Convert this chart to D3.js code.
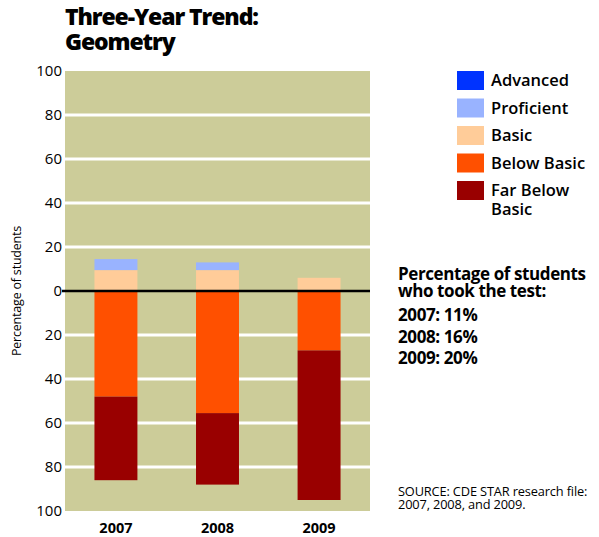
<!DOCTYPE html>
<html>
<head>
<meta charset="utf-8">
<script src="https://cdn.jsdelivr.net/npm/d3@7/dist/d3.min.js"></script>
<style>
  html, body { margin: 0; padding: 0; background: #ffffff; }
  svg { display: block; }
  text { font-family: "Open Sans", "DejaVu Sans", sans-serif; fill: #000; }
</style>
</head>
<body>
<svg id="chart" width="599" height="537"></svg>
<script>
// Performance bands per test year (percent of students)
const years = ["2007", "2008", "2009"];
const advanced = [0, 0, 0];
const proficient = [5, 3.5, 0];
const basic = [9.5, 9.5, 6];
const belowBasic = [48, 55.5, 27];
const farBelowBasic = [38, 32.5, 68];

const bandNames = ["Advanced", "Proficient", "Basic", "Below Basic", "Far Below Basic"];
const bandColors = ["#0033ff", "#99b3ff", "#ffcc99", "#ff5000", "#990000"];

const yTicks = [100, 80, 60, 40, 20, 0, -20, -40, -60, -80, -100];
const tookTest = ["2007: 11%", "2008: 16%", "2009: 20%"];

const svg = d3.select("#chart");

const plot = { left: 65, right: 370, top: 71, bottom: 511 };

const x = d3.scaleBand()
  .domain(years)
  .range([plot.left, plot.right])
  .paddingInner(0.577)
  .paddingOuter(0.29);

const y = d3.scaleLinear()
  .domain([-100, 100])
  .range([plot.bottom, plot.top]);

// Plot background
svg.append("rect")
  .attr("x", plot.left).attr("y", plot.top)
  .attr("width", plot.right - plot.left)
  .attr("height", plot.bottom - plot.top)
  .attr("fill", "#cccc99");

// White gridlines (excluding edges and zero)
svg.append("g")
  .selectAll("line")
  .data(yTicks.filter(d => d !== 0 && Math.abs(d) !== 100))
  .join("line")
  .attr("x1", plot.left).attr("x2", plot.right)
  .attr("y1", d => y(d)).attr("y2", d => y(d))
  .attr("stroke", "#ffffff")
  .attr("stroke-width", 3);

// Build stacked segments: positive bands go up from zero, negative go down
const segments = [];
years.forEach((yr, i) => {
  let top = 0;
  [[basic, 2], [proficient, 1], [advanced, 0]].forEach(([arr, k]) => {
    const v = arr[i];
    segments.push({ year: yr, y0: top, y1: top + v, color: bandColors[k] });
    top += v;
  });
  let bot = 0;
  [[belowBasic, 3], [farBelowBasic, 4]].forEach(([arr, k]) => {
    const v = arr[i];
    segments.push({ year: yr, y0: bot - v, y1: bot, color: bandColors[k] });
    bot -= v;
  });
});

svg.append("g")
  .selectAll("rect")
  .data(segments.filter(s => s.y1 - s.y0 > 0))
  .join("rect")
  .attr("x", d => x(d.year))
  .attr("width", x.bandwidth())
  .attr("y", d => y(d.y1))
  .attr("height", d => y(d.y0) - y(d.y1))
  .attr("fill", d => d.color);

// Zero baseline
svg.append("line")
  .attr("x1", plot.left - 3).attr("x2", plot.right)
  .attr("y1", y(0)).attr("y2", y(0))
  .attr("stroke", "#000")
  .attr("stroke-width", 2.5);

// Y axis labels (absolute values)
const yAxis = d3.axisLeft(y)
  .tickValues(yTicks)
  .tickFormat(d => Math.abs(d))
  .tickSize(0)
  .tickPadding(3);

const yg = svg.append("g")
  .attr("transform", `translate(${plot.left},0)`)
  .call(yAxis);
yg.select(".domain").remove();
yg.selectAll("text")
  .style("font-family", "'Open Sans', sans-serif")
  .style("font-size", "15px")
  .attr("fill", "#000");

// X axis labels
const xAxis = d3.axisBottom(x).tickSize(0).tickPadding(0);
const xg = svg.append("g")
  .attr("transform", `translate(0,${plot.bottom})`)
  .call(xAxis);
xg.select(".domain").remove();
xg.selectAll("text")
  .attr("dy", null)
  .attr("y", 22)
  .style("font-family", "'Open Sans', sans-serif")
  .style("font-size", "14.5px")
  .style("font-weight", "700")
  .attr("fill", "#000");

// Y axis title
svg.append("text")
  .attr("transform", `translate(21,${y(0)}) rotate(-90)`)
  .attr("text-anchor", "middle")
  .style("font-size", "12.5px")
  .style("letter-spacing", "-0.2px")
  .text("Percentage of students");

// Title
[["Three-Year Trend:", 25], ["Geometry", 50]].forEach(([s, yy]) => {
  svg.append("text")
    .attr("x", 65).attr("y", yy)
    .style("font-size", "23px")
    .style("font-weight", "800")
    .style("letter-spacing", "-1.1px")
    .text(s);
});

// Legend
const legend = svg.append("g").attr("transform", "translate(457,71)");
bandNames.forEach((name, i) => {
  const g = legend.append("g").attr("transform", `translate(0,${i * 27.5})`);
  g.append("rect")
    .attr("width", 27).attr("height", 19)
    .attr("fill", bandColors[i]);
  const lines = name === "Far Below Basic" ? ["Far Below", "Basic"] : [name];
  lines.forEach((s, j) => {
    g.append("text")
      .attr("x", 34).attr("y", 15 + j * 19)
      .style("font-size", "16.5px")
      .style("font-weight", "600")
      .text(s);
  });
});

// Participation note
const noteLines = [["Percentage of students", 280], ["who took the test:", 297]]
  .concat(tookTest.map((s, i) => [s, 321 + i * 21.5]));
noteLines.forEach(([s, yy]) => {
  svg.append("text")
    .attr("x", 398).attr("y", yy)
    .style("font-size", "17px")
    .style("font-weight", "700")
    .style("letter-spacing", "-0.4px")
    .text(s);
});

// Source
[["SOURCE: CDE STAR research file:", 496], ["2007, 2008, and 2009.", 509]].forEach(([s, yy]) => {
  svg.append("text")
    .attr("x", 398).attr("y", yy)
    .style("font-size", "12.8px")
    .style("letter-spacing", "-0.15px")
    .text(s);
});
</script>
</body>
</html>
